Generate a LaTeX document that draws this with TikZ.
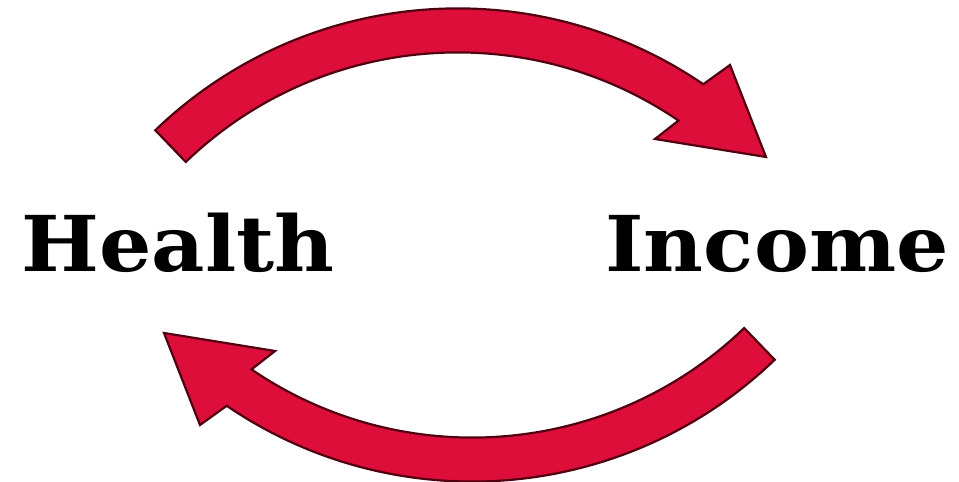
\documentclass[tikz,border=0pt]{standalone}
\usepackage{fontspec}
\newfontfamily\wordfont{DejaVu Serif}
\usetikzlibrary{calc}
\definecolor{arrowred}{RGB}{221,14,58}
\definecolor{arrowedge}{RGB}{80,0,15}
\begin{document}
\begin{tikzpicture}[x=1pt,y=1pt,
  bigarrow/.style={fill=arrowred, draw=arrowedge, line width=2.2pt, line join=miter},
  wordlabel/.style={font=\wordfont\bfseries\fontsize{77}{90}\selectfont, inner sep=0pt, text=black, xscale=1.07}]
\useasboundingbox (0,0) rectangle (959,482);
\coordinate (c1) at (457.6,37.6);
\coordinate (c2) at (472.4,436.4);
\coordinate (t1b1) at (730,417);
\coordinate (t1tip) at (766,325);
\coordinate (t1b2) at (655,343);
\coordinate (t2b1) at (200,57);
\coordinate (t2tip) at (164,149);
\coordinate (t2b2) at (275,131);
% top arrow: Health -> Income
\path[bigarrow] ($(c1)+(133.9:436)$) arc[start angle=133.9,end angle=55.7,radius=436]
  -- (t1b1) -- (t1tip) -- (t1b2) -- ($(c1)+(55.7:392)$)
  arc[start angle=55.7,end angle=133.9,radius=392] -- cycle;
% bottom arrow: Income -> Health
\path[bigarrow] ($(c2)+(313.9:436)$) arc[start angle=313.9,end angle=235.7,radius=436]
  -- (t2b1) -- (t2tip) -- (t2b2) -- ($(c2)+(235.7:392)$)
  arc[start angle=235.7,end angle=313.9,radius=392] -- cycle;
\node[wordlabel, anchor=base] (health) at (178,210) {Health};
\node[wordlabel, anchor=base] (income) at (777,210) {Income};
\end{tikzpicture}
\end{document}
